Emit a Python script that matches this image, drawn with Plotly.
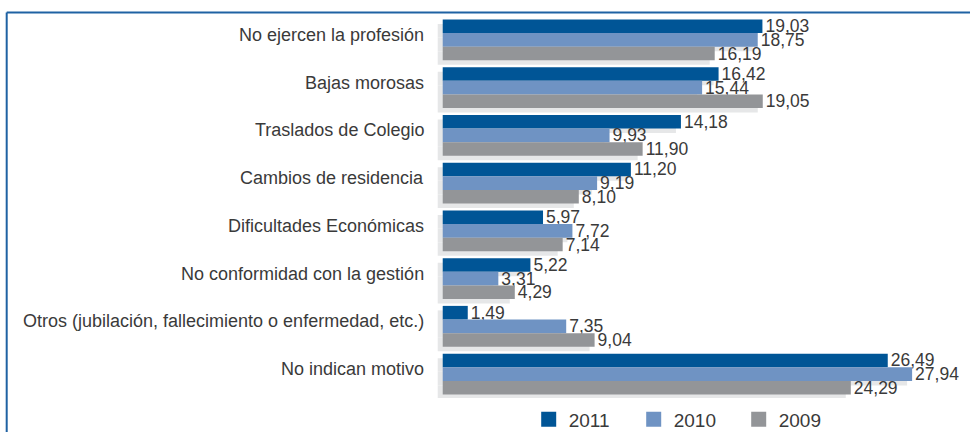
import plotly.graph_objects as go

categories = [
    "No ejercen la profesión",
    "Bajas morosas",
    "Traslados de Colegio",
    "Cambios de residencia",
    "Dificultades Económicas",
    "No conformidad con la gestión",
    "Otros (jubilación, fallecimiento o enfermedad, etc.)",
    "No indican motivo",
]
series_names = ["2011", "2010", "2009"]
values_2011 = [19.03, 16.42, 14.18, 11.20, 5.97, 5.22, 1.49, 26.49]
values_2010 = [18.75, 15.44, 9.93, 9.19, 7.72, 3.31, 7.35, 27.94]
values_2009 = [16.19, 19.05, 11.90, 8.10, 7.14, 4.29, 9.04, 24.29]
colors = ["#005596", "#6f93c3", "#939598"]
shadow_color = "#e6e7e8"

series = [values_2011, values_2010, values_2009]
pos = list(range(len(categories)))

W_PX, H_PX = 970, 432
L, R_ = 436.3, 29.7
T, B_ = 15.6, 33.5
plot_w = W_PX - L - R_
plot_h = H_PX - T - B_

bw = 0.286
offsets = [-1.5 * bw, -0.5 * bw, 0.5 * bw]
dy = 4.5 / (plot_h / 8)
dx = 5 / (plot_w / 30)

FONT = "Liberation Sans, Arial"

fig = go.Figure()
# shadows
for i, vals in enumerate(series):
    fig.add_trace(go.Bar(
        y=pos, x=vals, base=[-dx] * len(vals), orientation="h",
        width=bw, offset=offsets[i] + dy,
        marker=dict(color=shadow_color, line=dict(width=0)),
        showlegend=False, hoverinfo="skip",
    ))
for i, vals in enumerate(series):
    fig.add_trace(go.Bar(
        y=pos, x=vals, orientation="h", name=series_names[i],
        width=bw, offset=offsets[i],
        marker=dict(color=colors[i], line=dict(width=0)),
        texttemplate="%{x:.2f}", textposition="outside",
        constraintext="none", cliponaxis=False,
        textfont=dict(family=FONT, size=17.5, color="#3a3a3a"),
        showlegend=False,
    ))
# legend entries (square swatches)
for i, name in enumerate(series_names):
    fig.add_trace(go.Scatter(
        x=[None], y=[None], mode="markers", name=name,
        marker=dict(symbol="square", size=15, color=colors[i]),
        showlegend=True, hoverinfo="skip",
    ))

annotations = []
for p, c in zip(pos, categories):
    annotations.append(dict(
        x=0, xref="paper", y=p, yref="y", text=c, showarrow=False,
        xanchor="right", yanchor="middle", xshift=-10, yshift=5,
        font=dict(family=FONT, size=18, color="#3a3a3a"),
    ))

def px_x(px):
    return (px - L) / plot_w

def px_y(py):
    return (H_PX - B_ - py) / plot_h

line_color = "#1f62a3"
shapes = [
    dict(type="line", xref="paper", yref="paper", x0=px_x(7), x1=px_x(7),
         y0=px_y(12), y1=px_y(440), line=dict(color=line_color, width=2)),
    dict(type="line", xref="paper", yref="paper", x0=px_x(7), x1=px_x(980),
         y0=px_y(12), y1=px_y(12), line=dict(color=line_color, width=2)),
]

fig.update_layout(
    width=W_PX, height=H_PX,
    margin=dict(l=L, r=R_, t=T, b=B_, autoexpand=False),
    barmode="overlay",
    separators=",.",
    plot_bgcolor="white", paper_bgcolor="white",
    xaxis=dict(range=[-0.4, 29.6], visible=False),
    yaxis=dict(range=[7.5, -0.5], visible=False),
    showlegend=True,
    legend=dict(
        orientation="h", x=px_x(529), xanchor="left", y=px_y(420), yanchor="middle",
        font=dict(family=FONT, size=19, color="#3a3a3a"),
        entrywidth=60, entrywidthmode="pixels", traceorder="normal",
        itemsizing="trace", bgcolor="rgba(0,0,0,0)",
    ),
    annotations=annotations,
    shapes=shapes,
)

fig.write_html("out.html", config={"displayModeBar": False},
               post_script="document.body.style.margin='0';")
